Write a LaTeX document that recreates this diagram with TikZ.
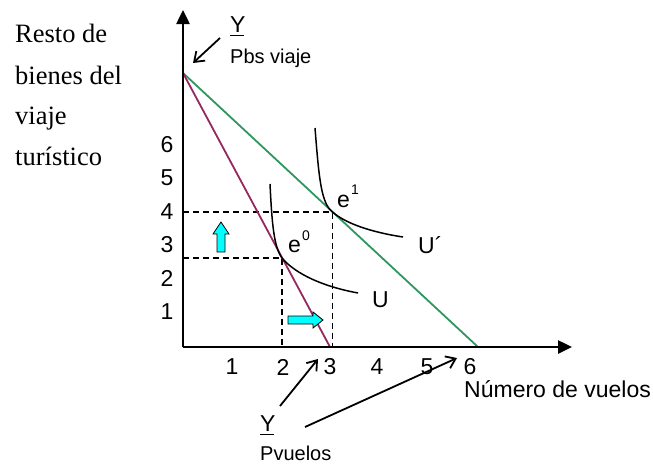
\documentclass[tikz,border=0pt]{standalone}
\usepackage{fontspec}
\newfontfamily\arialf{Liberation Sans}
\newfontfamily\timesf{Liberation Serif}
\usetikzlibrary{arrows.meta}
\definecolor{grn}{RGB}{46,150,95}
\definecolor{pur}{RGB}{150,40,95}
\definecolor{cyn}{RGB}{0,255,255}
\tikzset{
  axisline/.style={line width=2.5pt,-{Triangle[length=14pt,width=13pt]}},
  budget/.style={line width=1.8pt},
  indiff/.style={line width=1.5pt},
  guide/.style={line width=1.3pt,dash pattern=on 6pt off 4pt},
  pointer/.style={line width=1.8pt,-{Straight Barb[length=9pt,width=13pt,line width=1.8pt]}},
  lbl/.style={inner sep=0pt,font=\fontsize{23}{27}\selectfont\arialf},
  small/.style={inner sep=0pt,font=\fontsize{20}{24}\selectfont\arialf},
  supscr/.style={inner sep=0pt,anchor=base west,font=\fontsize{14}{16}\selectfont\arialf},
  serif/.style={inner sep=0pt,anchor=base west,font=\fontsize{26.5}{30}\selectfont\timesf},
  shiftarrow/.style={fill=cyn,draw=black,line width=0.8pt},
}
\begin{document}
\begin{tikzpicture}[x=1pt,y=-1pt]
\useasboundingbox (0,0) rectangle (653,464);
% key points
\coordinate (O) at (183,347);
\coordinate (ytip) at (183,10);
\coordinate (xtip) at (572,347);
\coordinate (A) at (183,73);
\coordinate (G) at (478,347);
\coordinate (P) at (330,347);
\coordinate (e1) at (332.5,212);
\coordinate (e0) at (282,258);
\coordinate (e1y) at (183,212);
\coordinate (e0y) at (183,258);
\coordinate (e1x) at (332.5,347);
\coordinate (e0x) at (282,347);
% guides
\draw[guide] (e1y) -- (e1) -- (e1x);
\draw[guide] (e0y) -- (e0) -- (e0x);
% budget lines
\draw[budget,grn] (A) -- (G);
\draw[budget,pur] (A) -- (P);
% axes
\draw[axisline] (O) -- (ytip);
\draw[axisline] (O) -- (xtip);
% indifference curves
\draw[indiff] (315,128) .. controls (319,178) and (321,203) .. (e1)
  .. controls (345,223) and (370,232) .. (403,237);
\draw[indiff] (270,184) .. controls (272,225) and (274,247) .. (e0)
  .. controls (292,270) and (315,285) .. (358,293);
% shift arrows
\draw[shiftarrow] (217,252) -- (217,234) -- (213,234) -- (221,222) -- (229,234) -- (225,234) -- (225,252) -- cycle;
\draw[shiftarrow] (288,316) -- (313,316) -- (313,312) -- (323,320) -- (313,328) -- (313,324) -- (288,324) -- cycle;
% axis numbers
\foreach \n/\x in {1/232,2/283,3/330,4/377,5/427,6/470}
  \node[lbl] (xn\n) at (\x,367) {\n};
\foreach \n/\y in {1/312,2/278,3/245,4/212,5/178,6/145}
  \node[lbl] (yn\n) at (167,\y) {\n};
% labels
\node[lbl,anchor=base west] (e1l) at (337,207) {e};
\node[supscr] (e1s) at (351,194) {1};
\node[lbl,anchor=base west] (e0l) at (288,252) {e};
\node[supscr] (e0s) at (302,240) {0};
\node[lbl,anchor=base west] (Up) at (418,253) {U´};
\node[lbl,anchor=base west] (U) at (372,307) {U};
\node[lbl,anchor=base west] (xlab) at (464,397) {Número de vuelos};
% top label
\node[lbl,anchor=base west] (Ytop) at (230,32) {Y};
\draw[line width=1.5pt] (230,35.5) -- (244,35.5);
\node[small,anchor=base west] (Pbs) at (230,63) {Pbs viaje};
\coordinate (ptA) at (220,38);
\coordinate (ptB) at (193,63);
\draw[pointer] (ptA) -- (ptB);
% bottom label
\node[lbl,anchor=base west] (Ybot) at (260,431) {Y};
\draw[line width=1.5pt] (260,434.5) -- (274,434.5);
\node[small,anchor=base west] (Pvu) at (260,460) {Pvuelos};
\coordinate (pb1s) at (280,406);
\coordinate (pb1e) at (318,359);
\coordinate (pb2s) at (305,427);
\coordinate (pb2e) at (457,358);
\draw[pointer] (pb1s) -- (pb1e);
\draw[pointer] (pb2s) -- (pb2e);
% left text
\node[serif] (t1) at (15,42) {Resto de};
\node[serif] (t2) at (15,84) {bienes del};
\node[serif] (t3) at (15,124) {viaje};
\node[serif] (t4) at (15,165) {turístico};
\end{tikzpicture}
\end{document}
